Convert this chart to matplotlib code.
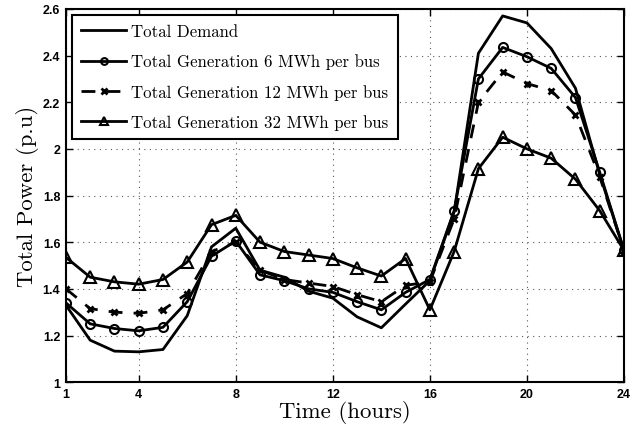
import matplotlib
matplotlib.use("Agg")
import matplotlib.pyplot as plt

hours = list(range(1, 25))
demand = [1.33, 1.18, 1.133, 1.13, 1.14, 1.285, 1.58, 1.66, 1.48, 1.45, 1.39, 1.36,
          1.28, 1.233, 1.335, 1.435, 1.73, 2.41, 2.57, 2.54, 2.43, 2.26, 1.89, 1.565]
gen_6 = [1.34, 1.25, 1.23, 1.22, 1.235, 1.345, 1.54, 1.605, 1.46, 1.435, 1.40, 1.385,
         1.345, 1.31, 1.385, 1.44, 1.735, 2.30, 2.435, 2.395, 2.345, 2.22, 1.90, 1.565]
gen_12 = [1.40, 1.315, 1.30, 1.295, 1.31, 1.38, 1.56, 1.60, 1.48, 1.44, 1.425, 1.41,
          1.375, 1.345, 1.415, 1.43, 1.70, 2.20, 2.33, 2.28, 2.25, 2.145, 1.88, 1.565]
gen_32 = [1.535, 1.45, 1.43, 1.42, 1.44, 1.515, 1.675, 1.715, 1.60, 1.56, 1.545, 1.53,
          1.49, 1.455, 1.53, 1.31, 1.56, 1.915, 2.05, 2.00, 1.96, 1.87, 1.735, 1.565]

xticks = [1, 4, 8, 12, 16, 20, 24]
yticks = [1, 1.2, 1.4, 1.6, 1.8, 2, 2.2, 2.4, 2.6]
ylabels = ["1", "1.2", "1.4", "1.6", "1.8", "2", "2.2", "2.4", "2.6"]

serif = "cmr10"

fig = plt.figure(figsize=(6.4, 4.31), dpi=100)
ax = fig.add_axes([0.103, 0.111, 0.872, 0.866])

ax.plot(hours, demand, "k-", lw=2, label="Total Demand")
ax.plot(hours, gen_6, "k-", lw=2, marker="o", ms=6.5, mfc="none", mew=1.5,
        label="Total Generation 6 MWh per bus")
ax.plot(hours, gen_12, "k--", lw=2, marker="x", ms=5, mew=2, dashes=(5, 4),
        label="Total Generation 12 MWh per bus")
ax.plot(hours, gen_32, "k-", lw=2, marker="^", ms=8, mfc="none", mew=1.5,
        label="Total Generation 32 MWh per bus")

ax.set_xlim(1, 24)
ax.set_ylim(1, 2.6)
ax.set_xticks(xticks)
ax.set_yticks(yticks)
ax.set_yticklabels(ylabels)
for lbl in ax.get_xticklabels() + ax.get_yticklabels():
    lbl.set_fontweight("bold")
    lbl.set_fontfamily("Liberation Sans")
    lbl.set_fontsize(9)
ax.tick_params(direction="in", top=True, right=True, length=5, width=1, pad=4)
ax.grid(True, linestyle=(0, (1, 4)), color="0.35", lw=0.8)
for sp in ax.spines.values():
    sp.set_linewidth(1.5)

ax.set_xlabel("Time (hours)", fontsize=16.4, fontfamily=serif, labelpad=0)
ax.set_ylabel("Total Power (p.u)", fontsize=16.4, fontfamily=serif, labelpad=3)

leg = ax.legend(loc="upper left", prop={"family": serif, "size": 12.1},
                fancybox=False, framealpha=1, edgecolor="k",
                handlelength=2.7, handletextpad=0.3, borderpad=0.55,
                labelspacing=0.85, borderaxespad=0.35, markerscale=0.75)
leg.get_frame().set_linewidth(1.5)

fig.savefig("out.png", dpi=100)
